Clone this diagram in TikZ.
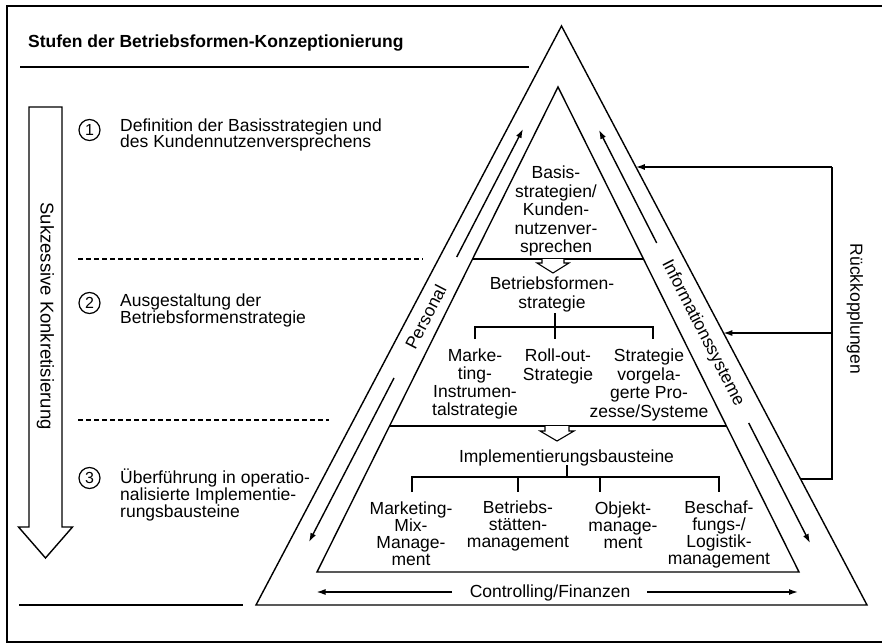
\documentclass[tikz,border=0pt]{standalone}
\usepackage{fontspec}
\setmainfont{Liberation Sans}
\usetikzlibrary{arrows.meta,calc}
\begin{document}
\begin{tikzpicture}[x=1pt,y=-1pt,
  every node/.style={inner sep=0pt,font=\fontsize{17.5}{18}\selectfont},
  ln/.style={line width=1.4pt},
  tip/.style={line width=1.4pt,-{Latex[length=9pt,width=6pt]}},
  dsh/.style={line width=1.1pt,dash pattern=on 5pt off 3pt},
  num/.style={circle,draw,line width=1.2pt,minimum size=21pt,font=\fontsize{16}{16}\selectfont},
  lefttext/.style={anchor=west,align=left,font=\fontsize{17.5}{17}\selectfont},
  tri/.style={align=center},
  hollow/.style={line width=1.1pt,fill=white}]
\useasboundingbox (0,0) rectangle (882,644);
% frame
\draw[ln] (886,6) -- (7,6) -- (7,642) -- (886,642);
% title
\node[anchor=west,font=\bfseries\fontsize{17.5}{18}\selectfont] (title) at (28,43) {Stufen der Betriebsformen-Konzeptionierung};
\draw[ln] (20,67) -- (529,67);
% big down arrow
\draw[ln,fill=white] (29,107) -- (62,107) -- (62,527) -- (72.5,527) -- (45.5,558) -- (18.5,527) -- (29,527) -- cycle;
\node[rotate=-90,font=\fontsize{18.5}{18}\selectfont] (sk) at (45.5,316) {Sukzessive Konkretisierung};
% stages
\node[num] (c1) at (89.5,130) {1};
\node[lefttext,font=\fontsize{17.5}{16.5}\selectfont] (s1) at (120,135) {Definition der Basisstrategien und\\des Kundennutzenversprechens};
\draw[dsh] (78,259) -- (423,259);
\node[num] (c2) at (89.5,303) {2};
\node[lefttext] (s2) at (120,310.5) {Ausgestaltung der\\Betriebsformenstrategie};
\draw[dsh] (78,420) -- (329,420);
\node[num] (c3) at (89.5,478) {3};
\node[lefttext] (s3) at (120,494.5) {Überführung in operatio-\\nalisierte Implementie-\\rungsbausteine};
\draw[ln] (19,605) -- (243,605);
% pyramid
\coordinate (A) at (561.5,26);
\coordinate (BL) at (256,605);
\coordinate (BR) at (867,605);
\draw[ln,line join=miter] (A) -- (BR) -- (BL) -- cycle;
\coordinate (iA) at (558,87);
\coordinate (iBL) at (317,572);
\coordinate (iBR) at (799,572);
\draw[ln,line join=miter] (iA) -- (iBR) -- (iBL) -- cycle;
\coordinate (l1a) at (472.5,259);
\coordinate (l1b) at (643.5,259);
\coordinate (l2a) at (389.5,426);
\coordinate (l2b) at (726.5,426);
\draw[ln] (l1a) -- (l1b);
\draw[ln] (l2a) -- (l2b);
% level 1
\node[tri,font=\fontsize{17.5}{18.5}\selectfont] (basis) at (556,211) {Basis-\\strategien/\\Kunden-\\nutzenver-\\sprechen};
\draw[hollow] (542,259) -- (542,263) -- (537,263) -- (553,273) -- (569,263) -- (564,263) -- (564,259);
% level 2
\node[tri,font=\fontsize{17.5}{19}\selectfont] (bf) at (552,294) {Betriebsformen-\\strategie};
\coordinate (t1top) at (555,313);
\node[tri,font=\fontsize{17.5}{18.3}\selectfont] (mk) at (475,384) {Marke-\\ting-\\Instrumen-\\talstrategie};
\node[tri,font=\fontsize{17.5}{19}\selectfont] (ro) at (558,366) {Roll-out-\\Strategie};
\node[tri,font=\fontsize{17.5}{18.7}\selectfont] (sv) at (649,385) {Strategie\\vorgela-\\gerte Pro-\\zesse/Systeme};
\draw[ln] (t1top) -- (555,339);
\draw[ln] (475,339) -- (475,327) -- (653,327) -- (653,339);
\draw[hollow] (545,426) -- (545,431) -- (540,431) -- (557,441) -- (574,431) -- (569,431) -- (569,426);
% level 3
\node[tri] (impl) at (566.5,458) {Implementierungsbausteine};
\coordinate (t2top) at (567,465);
\draw[ln] (t2top) -- (567,477);
\draw[ln] (412,492) -- (412,477) -- (719,477) -- (719,492);
\draw[ln] (518,477) -- (518,492);
\draw[ln] (600,477) -- (600,492);
\node[tri,font=\fontsize{17.5}{17}\selectfont] (mm) at (411,534) {Marketing-\\Mix-\\Manage-\\ment};
\node[tri,font=\fontsize{17.5}{17}\selectfont] (bs) at (518,525.5) {Betriebs-\\stätten-\\management};
\node[tri,font=\fontsize{17.5}{17}\selectfont] (om) at (623,525) {Objekt-\\manage-\\ment};
\node[tri,font=\fontsize{17.5}{17}\selectfont] (bl) at (719,534) {Beschaf-\\fungs-/\\Logistik-\\management};
% side channels
\coordinate (pT) at (523,129);
\coordinate (pB) at (309,542);
\coordinate (pG1) at (456.7,257);
\coordinate (pG2) at (394,378);
\draw[tip] (pG1) -- (pT);
\draw[tip] (pG2) -- (pB);
\node[rotate=62.6] (pers) at (425.6,317) {Personal};
\coordinate (iT) at (599,130);
\coordinate (iB) at (810,543);
\coordinate (iG1) at (656.7,243);
\coordinate (iG2) at (748.7,423);
\draw[tip] (iG1) -- (iT);
\draw[tip] (iG2) -- (iB);
\node[rotate=-62.9] (info) at (702.7,333) {Informationssysteme};
% controlling
\node (ctrl) at (550,593) {Controlling/Finanzen};
\coordinate (cL) at (316.5,592);
\coordinate (cR) at (798,592);
\coordinate (cL0) at (452,592);
\coordinate (cR0) at (647,592);
\draw[tip] (cL0) -- (cL);
\draw[tip] (cR0) -- (cR);
% feedback
\coordinate (fv1) at (832,167);
\coordinate (fv2) at (832,333);
\coordinate (fv3) at (832,479);
\coordinate (fb1) at (635.8,167);
\coordinate (fb2) at (723.3,333);
\coordinate (fb3) at (800.2,479);
\draw[tip] (fv1) -- (fb1);
\draw[tip] (fv2) -- (fb2);
\draw[ln] (fb3) -- (fv3) -- (fv1);
\node[rotate=-90] (rk) at (855,309) {Rückkopplungen};
\end{tikzpicture}
\end{document}
